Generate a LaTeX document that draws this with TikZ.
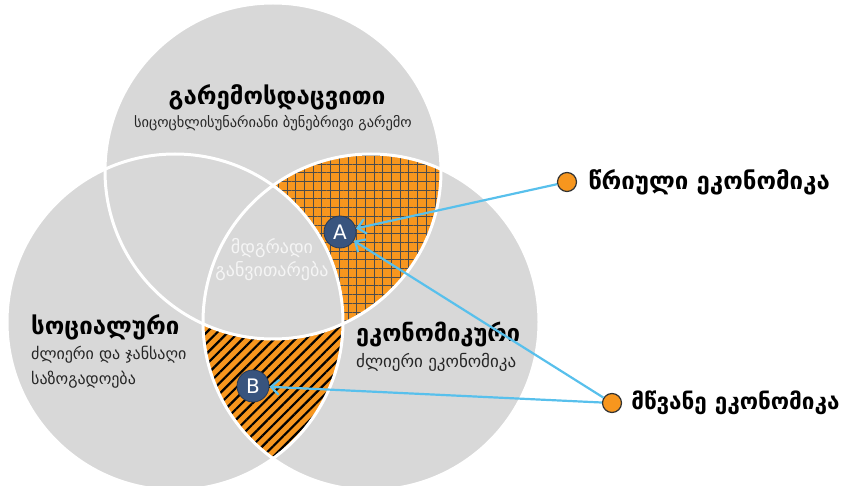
\documentclass[tikz,border=0pt]{standalone}
\usepackage{fontspec}
\setmainfont{DejaVu Sans}
\usetikzlibrary{positioning}
\usetikzlibrary{arrows.meta}
\usetikzlibrary{patterns.meta}
\definecolor{vennGray}{RGB}{216,216,216}
\definecolor{hatchOrange}{RGB}{247,150,30}
\definecolor{markBlue}{RGB}{56,84,126}
\definecolor{linkBlue}{RGB}{88,192,236}

\begin{document}
\begin{tikzpicture}[x=1pt,y=-1pt,
  letterdot/.style={circle, fill=markBlue, draw=markBlue!70!black, line width=0.8pt,
    minimum size=32pt, inner sep=0pt, text=white, font=\fontsize{20}{20}\selectfont},
  keydot/.style={circle, fill=hatchOrange, draw=black!80, line width=1.2pt,
    minimum size=19pt, inner sep=0pt},
  link/.style={linkBlue, line width=2.2pt,
    -{Straight Barb[length=8pt,width=15pt,line width=2.2pt]}},
  headtext/.style={font=\bfseries\fontsize{24}{26}\selectfont, inner sep=0pt},
  subtext/.style={font=\fontsize{16}{25}\selectfont, text=black!85, align=left, inner sep=0pt},
  coretext/.style={font=\fontsize{18}{23}\selectfont, text=white!96!black, align=center}]
  \useasboundingbox (0,0) rectangle (843,486);
  % radius of the three circles
  \def\rad{168}
  \coordinate (ct) at (273,171);
  \coordinate (cl) at (175,322);
  \coordinate (cr) at (371,322);

  \foreach \c in {ct,cl,cr}
    {\fill[vennGray] (\c) circle[radius=\rad];}

  % circular economy: top and right, not left
  \begin{scope}
    \clip (ct) circle[radius=\rad];
    \clip (cr) circle[radius=\rad];
    \fill[hatchOrange, even odd rule] (0,0) rectangle (843,486) (cl) circle[radius=\rad];
    \fill[pattern={Hatch[distance=8.7pt,angle=0,line width=0.9pt]}, pattern color=black!70,
      even odd rule] (0,0) rectangle (843,486) (cl) circle[radius=\rad];
  \end{scope}
  % green economy: left and right, not top
  \begin{scope}
    \clip (cl) circle[radius=\rad];
    \clip (cr) circle[radius=\rad];
    \fill[hatchOrange, even odd rule] (0,0) rectangle (843,486) (ct) circle[radius=\rad];
    \fill[pattern={Lines[distance=7.5pt,angle=45,line width=2.2pt]}, pattern color=black,
      even odd rule] (0,0) rectangle (843,486) (ct) circle[radius=\rad];
  \end{scope}

  \foreach \c in {ct,cl,cr}
    {\draw[white, line width=3pt] (\c) circle[radius=\rad];}

  \node[headtext] (envhead) at (277,97) {გარემოსდაცვითი};
  \node[subtext, font=\fontsize{14.4}{18}\selectfont] (envsub) at (273,123) {სიცოცხლისუნარიანი ბუნებრივი გარემო};
  \node[headtext, anchor=west] (sochead) at (31,327) {სოციალური};
  \node[subtext, anchor=north west] (socsub) at (31,346) {ძლიერი და ჯანსაღი\\საზოგადოება};
  \node[headtext, font=\bfseries\fontsize{23.5}{26}\selectfont, anchor=west] (ecohead) at (356,334) {ეკონომიკური};
  \node[subtext, font=\fontsize{17}{20}\selectfont, anchor=west] (ecosub) at (356,362) {ძლიერი ეკონომიკა};
  \node[coretext] (core) at (272,260) {მდგრადი\\განვითარება};

  \node[letterdot] (pa) at (340,232) {A};
  \node[letterdot] (pb) at (253,386) {B};
  \node[keydot] (dcirc) at (567,182) {};
  \node[keydot] (dgreen) at (612,403) {};
  \node[headtext, right=11pt of dcirc] (lcirc) {წრიული ეკონომიკა};
  \node[headtext, font=\bfseries\fontsize{22.5}{26}\selectfont, right=9pt of dgreen] (lgreen) {მწვანე ეკონომიკა};

  \draw[link] (dcirc) -- (pa);
  \draw[link] (dgreen) -- (pa);
  \draw[link] (dgreen) -- (pb);
\end{tikzpicture}
\end{document}
